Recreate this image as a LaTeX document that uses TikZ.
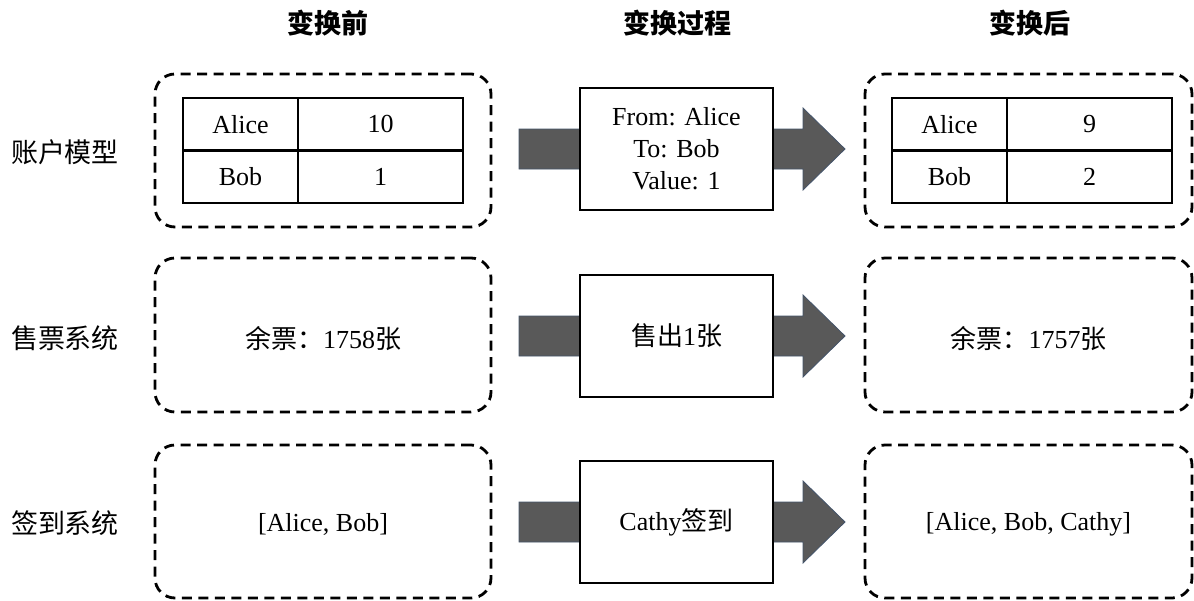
\documentclass[tikz,border=0pt]{standalone}
\usepackage{fontspec}
\setmainfont{Liberation Serif}
\newfontfamily\cjk{Noto Sans CJK SC}
\usetikzlibrary{calc,backgrounds}
\definecolor{arrowfill}{HTML}{595959}
\definecolor{arrowline}{HTML}{44546A}
\begin{document}
\begin{tikzpicture}[x=1pt,y=-1pt,
  every node/.style={inner sep=0pt, outer sep=0pt},
  dbox/.style={draw, line width=2.8pt, dash pattern=on 10pt off 6.5pt, rounded corners=20pt},
  pbox/.style={draw, line width=2.7pt, fill=white, minimum width=193pt, minimum height=122pt,
    font=\fontsize{26}{32}\selectfont, align=center},
  cellA/.style={draw, line width=2.7pt, minimum width=115pt, minimum height=52.5pt, font=\fontsize{26}{32}\selectfont},
  cellB/.style={draw, line width=2.7pt, minimum width=165pt, minimum height=52.5pt, font=\fontsize{26}{32}\selectfont},
  txt/.style={font=\fontsize{26}{32}\selectfont},
  title/.style={font=\cjk\bfseries\fontsize{27}{32}\selectfont},
  rowlabel/.style={font=\cjk\fontsize{27}{32}\selectfont, anchor=west},
  barrow/.style={fill=arrowfill, draw=arrowline, line width=0.8pt}
]
\useasboundingbox (0,0) rectangle (1194,600);

% titles
\node[title] (t1) at (328,23) {变换前};
\node[title] (t2) at (677,23) {变换过程};
\node[title] (t3) at (1030,23) {变换后};

% row labels
\node[rowlabel] (r1) at (11,152) {账户模型};
\node[rowlabel] (r2) at (11,338) {售票系统};
\node[rowlabel] (r3) at (11,523) {签到系统};

% dashed boxes
\node[dbox, minimum width=336pt, minimum height=153pt] (L1) at (323,150.5) {};
\node[dbox, minimum width=336pt, minimum height=154pt] (L2) at (323,335) {};
\node[dbox, minimum width=336pt, minimum height=153pt] (L3) at (323,521.5) {};
\node[dbox, minimum width=327pt, minimum height=153pt] (R1) at (1028.5,150.5) {};
\node[dbox, minimum width=327pt, minimum height=154pt] (R2) at (1028.5,335) {};
\node[dbox, minimum width=327pt, minimum height=153pt] (R3) at (1028.5,521.5) {};

% tables
\node[cellA] (la1) at (240.5,124.25) {Alice};
\node[cellB] (lb1) at (380.5,124.25) {10};
\node[cellA] (la2) at (240.5,176.75) {Bob};
\node[cellB] (lb2) at (380.5,176.75) {1};
\node[cellA] (ra1) at (949.5,124.25) {Alice};
\node[cellB] (rb1) at (1089.5,124.25) {9};
\node[cellA] (ra2) at (949.5,176.75) {Bob};
\node[cellB] (rb2) at (1089.5,176.75) {2};

% texts in dashed boxes
\node[txt] (l2t) at (323,339) {{\cjk 余票：}1758{\cjk 张}};
\node[txt] (r2t) at (1028.5,339) {{\cjk 余票：}1757{\cjk 张}};
\node[txt] (l3t) at (323,524) {[Alice, Bob]};
\node[txt] (r3t) at (1028.5,524) {[Alice, Bob, Cathy]};

% process boxes
\node[pbox] (p1) at (676.5,149) {From: Alice\\To: Bob\\Value: 1};
\node[pbox] (p2) at (676.5,336) {{\cjk 售出}1{\cjk 张}};
\node[pbox] (p3) at (676.5,522) {Cathy{\cjk 签到}};

% block arrows behind process boxes
\begin{pgfonlayer}{background}
\foreach \p in {p1,p2,p3}{
  \draw[barrow] ($(\p.west)+(-61,-20)$) -- ($(\p.east)+(30,-20)$) -- ($(\p.east)+(30,-41)$)
    -- ($(\p.east)+(72,0)$) -- ($(\p.east)+(30,41)$) -- ($(\p.east)+(30,20)$)
    -- ($(\p.west)+(-61,20)$) -- cycle;
}
\end{pgfonlayer}
\end{tikzpicture}
\end{document}
